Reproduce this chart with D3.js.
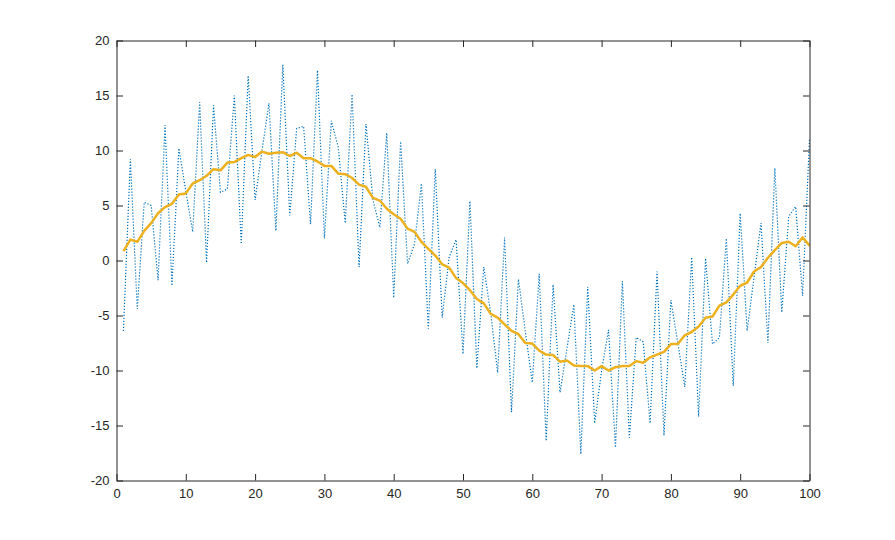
<!DOCTYPE html>
<html>
<head>
<meta charset="utf-8">
<script src="https://cdn.jsdelivr.net/npm/d3@7"></script>
<style>
  html, body { margin: 0; padding: 0; background: #fff; }
  svg { display: block; }
  text { font-family: "Liberation Sans", Helvetica, Arial, sans-serif; }
</style>
</head>
<body>
<svg id="chart" width="895" height="540"></svg>
<script>
const xValues = d3.range(1, 101);
const noisy = [
  -6.4, 9.2, -4.4, 5.3, 5.0, -1.8, 12.3, -2.3, 10.2, 6.3,
  2.6, 14.4, -0.2, 14.1, 6.2, 6.5, 15.0, 1.5, 16.8, 5.5,
  10.0, 14.3, 2.7, 17.8, 4.1, 12.0, 12.2, 3.3, 17.3, 2.0,
  12.7, 10.3, 3.4, 15.1, -0.6, 12.4, 5.5, 3.0, 11.6, -3.4,
  10.8, -0.3, 1.5, 7.0, -6.2, 8.3, -5.2, 0.3, 1.9, -8.5,
  5.4, -9.8, -0.6, -4.8, -10.2, 2.1, -13.8, -1.7, -6.5, -11.1,
  -1.2, -16.4, -2.2, -12.0, -8.0, -4.0, -17.6, -2.4, -14.8, -10.0,
  -6.3, -17.0, -1.9, -16.1, -7.0, -7.4, -14.8, -1.0, -15.9, -3.6,
  -7.5, -11.5, 0.3, -14.2, 0.2, -7.6, -7.0, 2.0, -11.4, 4.3,
  -6.4, -1.5, 3.4, -7.5, 8.4, -4.7, 4.0, 4.9, -3.2, 11.0
];
const smooth = [
  0.85, 1.9, 1.7, 2.7, 3.4, 4.3, 4.85, 5.15, 6.0, 6.1,
  7.0, 7.3, 7.7, 8.3, 8.2, 8.9, 8.95, 9.3, 9.6, 9.4,
  9.9, 9.7, 9.8, 9.85, 9.5, 9.8, 9.3, 9.3, 9.0, 8.6,
  8.6, 7.9, 7.85, 7.5, 6.9, 6.7, 5.7, 5.45, 4.7, 4.2,
  3.8, 2.9, 2.6, 1.7, 1.05, 0.45, -0.35, -0.65, -1.6, -2.05,
  -2.7, -3.5, -3.9, -4.85, -5.2, -5.8, -6.4, -6.7, -7.5, -7.55,
  -8.2, -8.55, -8.6, -9.2, -9.1, -9.55, -9.6, -9.6, -10.0, -9.6,
  -10.0, -9.7, -9.6, -9.6, -9.15, -9.3, -8.8, -8.55, -8.3, -7.6,
  -7.6, -6.8, -6.5, -6.0, -5.2, -5.1, -4.1, -3.8, -3.1, -2.3,
  -2.0, -1.0, -0.6, 0.25, 0.95, 1.6, 1.7, 1.3, 2.1, 1.35
];
const xTicks = [0, 10, 20, 30, 40, 50, 60, 70, 80, 90, 100];
const yTicks = [-20, -15, -10, -5, 0, 5, 10, 15, 20];

const svg = d3.select("#chart");
const mLeft = 116.5, mRight = 809.5, mTop = 40.5, mBottom = 480.5;
const x = d3.scaleLinear().domain([0, 100]).range([mLeft, mRight]);
const y = d3.scaleLinear().domain([-20, 20]).range([mBottom, mTop]);
const axisColor = "#262626";

// lines
const lineGen = d3.line().x((d, i) => x(xValues[i])).y(d => y(d));
svg.append("path").datum(noisy)
  .attr("d", lineGen)
  .attr("fill", "none")
  .attr("stroke", "#0072BD")
  .attr("stroke-width", 1.2)
  .attr("stroke-dasharray", "1.2,1.8");

svg.append("path").datum(smooth)
  .attr("d", lineGen)
  .attr("fill", "none")
  .attr("stroke", "#EDB120")
  .attr("stroke-width", 2.5)
  .attr("stroke-linejoin", "round");

// axes (MATLAB style: ticks inward, box)
const tickLen = 6.5;
const gxB = svg.append("g").attr("transform", `translate(0,${mBottom})`)
  .call(d3.axisBottom(x).tickValues(xTicks).tickSizeInner(-tickLen).tickSizeOuter(0).tickPadding(8));
const gxT = svg.append("g").attr("transform", `translate(0,${mTop})`)
  .call(d3.axisTop(x).tickValues(xTicks).tickSizeInner(-tickLen).tickSizeOuter(0).tickFormat(""));
const gyL = svg.append("g").attr("transform", `translate(${mLeft},0)`)
  .call(d3.axisLeft(y).tickValues(yTicks).tickSizeInner(-tickLen).tickSizeOuter(0).tickPadding(7));
const gyR = svg.append("g").attr("transform", `translate(${mRight},0)`)
  .call(d3.axisRight(y).tickValues(yTicks).tickSizeInner(-tickLen).tickSizeOuter(0).tickFormat(""));

[gxB, gxT, gyL, gyR].forEach(g => {
  g.selectAll(".domain").attr("stroke", axisColor).attr("stroke-width", 1);
  g.selectAll(".tick line").attr("stroke", axisColor).attr("stroke-width", 1);
  g.selectAll(".tick text").attr("fill", axisColor)
    .style("font-size", "13px")
    .style("font-family", "'Liberation Sans', Helvetica, Arial, sans-serif");
});
gyL.selectAll(".tick text").text(d => d < 0 ? "-" + Math.abs(d) : d);
</script>
</body>
</html>
